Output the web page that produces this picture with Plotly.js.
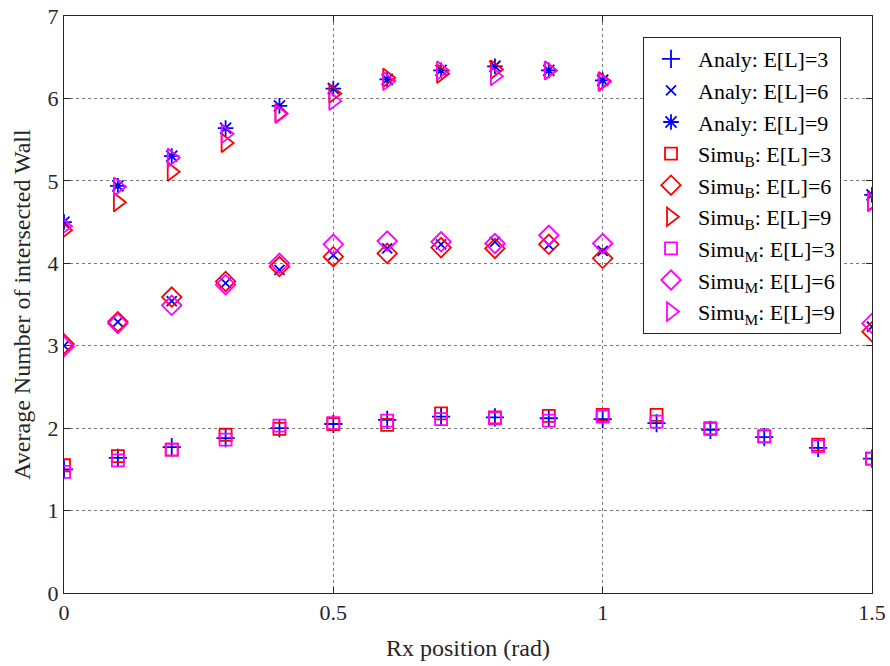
<!DOCTYPE html>
<html>
<head>
<meta charset="utf-8">
<script src="https://cdn.plot.ly/plotly-3.0.1.min.js"></script>
<style>html,body{margin:0;padding:0;background:#fff;}#chart{width:890px;height:666px;}</style>
</head>
<body>
<div id="chart"></div>
<script>
// x positions (rad)
const xFull = [0, 0.1, 0.2, 0.3, 0.4, 0.5, 0.6, 0.7, 0.8, 0.9, 1.0, 1.1, 1.2, 1.3, 1.4, 1.5];
const xPart = [0, 0.1, 0.2, 0.3, 0.4, 0.5, 0.6, 0.7, 0.8, 0.9, 1.0, 1.5];

// Analytical
const analy3 = [1.50, 1.64, 1.77, 1.88, 2.00, 2.05, 2.10, 2.14, 2.13, 2.12, 2.11, 2.06, 1.98, 1.89, 1.76, 1.63];
const analy6 = [3.00, 3.29, 3.54, 3.76, 3.92, 4.10, 4.18, 4.23, 4.26, 4.22, 4.15, 3.23];
const analy9 = [4.50, 4.94, 5.30, 5.64, 5.91, 6.12, 6.23, 6.34, 6.39, 6.34, 6.22, 4.83];

// Simulation B
const simuB3 = [1.55, 1.66, 1.74, 1.92, 1.99, 2.05, 2.04, 2.18, 2.13, 2.15, 2.16, 2.16, 1.99, 1.90, 1.80, 1.63];
const simuB6 = [3.02, 3.29, 3.59, 3.78, 3.96, 4.08, 4.12, 4.19, 4.18, 4.23, 4.06, 3.17];
const simuB9 = [4.40, 4.74, 5.11, 5.46, 5.82, 6.06, 6.25, 6.30, 6.35, 6.34, 6.21, 4.75];

// Simulation M
const simuM3 = [1.47, 1.61, 1.74, 1.86, 2.03, 2.06, 2.09, 2.11, 2.12, 2.09, 2.14, 2.08, 2.00, 1.90, 1.78, 1.63];
const simuM6 = [2.99, 3.27, 3.49, 3.74, 4.00, 4.23, 4.27, 4.26, 4.24, 4.34, 4.24, 3.27];
const simuM9 = [4.45, 4.93, 5.28, 5.57, 5.81, 5.97, 6.21, 6.34, 6.27, 6.34, 6.20, 4.74];

const names = ['Analy: E[L]=3', 'Analy: E[L]=6', 'Analy: E[L]=9',
  'Simu<sub>B</sub>: E[L]=3', 'Simu<sub>B</sub>: E[L]=6', 'Simu<sub>B</sub>: E[L]=9',
  'Simu<sub>M</sub>: E[L]=3', 'Simu<sub>M</sub>: E[L]=6', 'Simu<sub>M</sub>: E[L]=9'];

function tr(x, y, name, symbol, color, size) {
  return {
    x: x, y: y, name: name, type: 'scatter', mode: 'markers',
    marker: {symbol: symbol, color: color, size: size, line: {color: color, width: 1.8}}
  };
}

const blue = '#0000ff', red = '#ff0000', mag = '#ff00ff';
const data = [
  tr(xFull, analy3, names[0], 'cross-thin-open', blue, 13),
  tr(xPart, analy6, names[1], 'x-thin-open', blue, 10),
  tr(xPart, analy9, names[2], 'asterisk-open', blue, 13),
  tr(xFull, simuB3, names[3], 'square-open', red, 12),
  tr(xPart, simuB6, names[4], 'diamond-open', red, 15),
  tr(xPart, simuB9, names[5], 'triangle-right-open', red, 16),
  tr(xFull, simuM3, names[6], 'square-open', mag, 12),
  tr(xPart, simuM6, names[7], 'diamond-open', mag, 15),
  tr(xPart, simuM9, names[8], 'triangle-right-open', mag, 16)
];

const serif = 'Liberation Serif';
const layout = {
  width: 890, height: 666,
  margin: {l: 64, r: 18, t: 16, b: 73},
  paper_bgcolor: '#fff', plot_bgcolor: '#fff',
  font: {family: serif, size: 22, color: '#262626'},
  showlegend: true,
  legend: {
    x: 0.7166, y: 0.9636, xanchor: 'left', yanchor: 'top',
    bgcolor: '#ffffff', bordercolor: '#262626', borderwidth: 1,
    font: {family: serif, size: 22, color: '#000'},
    tracegroupgap: 0, itemwidth: 44
  },
  xaxis: {
    range: [0, 1.5], tickvals: [0, 0.5, 1, 1.5], ticktext: ['0', '0.5', '1', '1.5'],
    showgrid: true, gridcolor: '#7a7a7a', griddash: 'dot', gridwidth: 1,
    zeroline: false, showline: true, mirror: 'ticks', linecolor: '#262626', linewidth: 1,
    ticks: 'inside', ticklen: 6, tickcolor: '#262626',
    tickfont: {family: serif, size: 22, color: '#262626'},
    title: {text: 'Rx position (rad)', font: {family: serif, size: 24, color: '#262626'}, standoff: 14}
  },
  yaxis: {
    range: [0, 7], tickvals: [0, 1, 2, 3, 4, 5, 6, 7],
    showgrid: true, gridcolor: '#7a7a7a', griddash: 'dot', gridwidth: 1,
    zeroline: false, showline: true, mirror: 'ticks', linecolor: '#262626', linewidth: 1,
    ticks: 'inside', ticklen: 6, tickcolor: '#262626',
    tickfont: {family: serif, size: 22, color: '#262626'},
    title: {text: 'Average Number of intersected Wall', font: {family: serif, size: 24, color: '#262626'}, standoff: 10}
  }
};

Plotly.newPlot('chart', data, layout, {displayModeBar: false, staticPlot: true});
</script>
</body>
</html>
